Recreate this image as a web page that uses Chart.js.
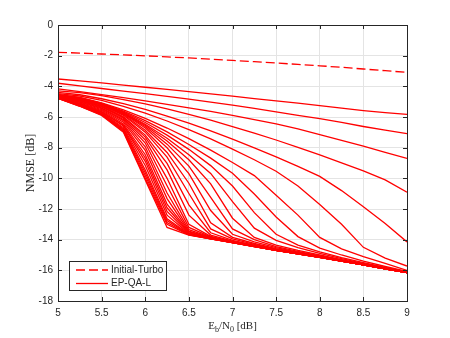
<!DOCTYPE html>
<html>
<head>
<meta charset="utf-8">
<script src="https://cdn.jsdelivr.net/npm/chart.js@4.4.0/dist/chart.umd.min.js"></script>
<style>
  html, body { margin: 0; background: #fff; }
</style>
</head>
<body>
<canvas id="nmseChart" width="450" height="338"></canvas>
<script>
// Eb/N0 grid (dB)
const ebn0 = [5, 5.25, 5.5, 5.75, 6, 6.25, 6.5, 6.75, 7, 7.25, 7.5, 7.75, 8, 8.25, 8.5, 8.75, 9];
const xTicks = [5, 5.5, 6, 6.5, 7, 7.5, 8, 8.5, 9];
const yTicks = [0, -2, -4, -6, -8, -10, -12, -14, -16, -18];

// Initial-Turbo NMSE (dB)
const initTurbo = [-1.78, -1.83, -1.89, -1.95, -2.01, -2.08, -2.15, -2.23, -2.31, -2.39, -2.48, -2.57, -2.66, -2.76, -2.87, -2.98, -3.09];

// EP-QA-L NMSE (dB), one curve per iteration
const it1 = [-3.52, -3.65, -3.78, -3.92, -4.06, -4.2, -4.34, -4.49, -4.64, -4.8, -4.95, -5.1, -5.26, -5.42, -5.58, -5.72, -5.83];
const it2 = [-3.8, -3.97, -4.14, -4.31, -4.48, -4.66, -4.84, -5.03, -5.23, -5.44, -5.66, -5.89, -6.1, -6.35, -6.62, -6.86, -7.08];
const it3 = [-4.17, -4.35, -4.54, -4.74, -4.95, -5.17, -5.4, -5.64, -5.9, -6.17, -6.45, -6.78, -7.15, -7.52, -7.9, -8.3, -8.7];
const it4 = [-4.3, -4.41, -4.61, -4.86, -5.15, -5.47, -5.83, -6.21, -6.62, -7.05, -7.5, -7.98, -8.47, -8.99, -9.52, -10.1, -10.9];
const it5 = [-4.4, -4.55, -4.81, -5.13, -5.51, -5.94, -6.4, -6.9, -7.44, -8.01, -8.6, -9.22, -9.87, -10.8, -11.85, -12.95, -14.15];
const it6 = [-4.47, -4.63, -4.92, -5.3, -5.75, -6.26, -6.83, -7.43, -8.1, -8.79, -9.54, -10.5, -11.7, -13.0, -14.5, -15.2, -15.72];
const it7 = [-4.52, -4.72, -5.08, -5.54, -6.09, -6.72, -7.41, -8.16, -8.97, -9.82, -11.1, -12.4, -13.85, -14.6, -15.1, -15.55, -16.0];
const it8 = [-4.56, -4.74, -5.11, -5.62, -6.24, -6.97, -7.79, -8.68, -9.67, -11.02, -12.52, -13.8, -14.55, -15.0, -15.4, -15.75, -16.07];
const it9 = [-4.59, -4.76, -5.13, -5.67, -6.36, -7.18, -8.11, -9.17, -10.5, -12.24, -13.65, -14.35, -14.8, -15.17, -15.5, -15.81, -16.1];
const it10 = [-4.62, -4.77, -5.15, -5.72, -6.47, -7.38, -8.46, -9.68, -11.52, -13.25, -14.05, -14.52, -14.9, -15.24, -15.55, -15.84, -16.11];
const it11 = [-4.64, -4.79, -5.16, -5.74, -6.54, -7.56, -8.79, -10.36, -12.6, -13.85, -14.35, -14.7, -15.0, -15.3, -15.58, -15.85, -16.12];
const it12 = [-4.66, -4.81, -5.17, -5.76, -6.62, -7.77, -9.2, -11.24, -13.3, -14.0, -14.45, -14.77, -15.05, -15.33, -15.6, -15.86, -16.13];
const it13 = [-4.68, -4.83, -5.18, -5.79, -6.72, -8.01, -9.69, -12.1, -13.65, -14.15, -14.52, -14.82, -15.08, -15.35, -15.61, -15.87, -16.13];
const it14 = [-4.69, -4.85, -5.2, -5.84, -6.86, -8.31, -10.32, -12.9, -13.85, -14.25, -14.58, -14.85, -15.1, -15.36, -15.62, -15.88, -16.14];
const it15 = [-4.7, -4.88, -5.23, -5.89, -6.99, -8.62, -10.99, -13.3, -13.95, -14.3, -14.62, -14.87, -15.11, -15.37, -15.63, -15.88, -16.14];
const it16 = [-4.71, -4.91, -5.28, -5.98, -7.18, -9.03, -11.73, -13.55, -14.05, -14.35, -14.65, -14.89, -15.12, -15.38, -15.64, -15.89, -16.15];
const it17 = [-4.72, -4.94, -5.31, -6.02, -7.31, -9.45, -12.4, -13.7, -14.1, -14.38, -14.67, -14.9, -15.13, -15.39, -15.64, -15.9, -16.15];
const it18 = [-4.73, -4.97, -5.35, -6.08, -7.5, -10.0, -13.0, -13.78, -14.13, -14.4, -14.68, -14.9, -15.14, -15.39, -15.65, -15.9, -16.15];
const it19 = [-4.74, -5.02, -5.41, -6.17, -7.7, -10.48, -13.2, -13.82, -14.15, -14.41, -14.69, -14.91, -15.14, -15.4, -15.65, -15.9, -16.15];
const it20 = [-4.74, -5.05, -5.46, -6.24, -7.94, -10.96, -13.35, -13.85, -14.16, -14.42, -14.69, -14.91, -15.14, -15.4, -15.65, -15.9, -16.15];
const it21 = [-4.75, -5.09, -5.52, -6.34, -8.18, -11.32, -13.45, -13.87, -14.17, -14.42, -14.7, -14.91, -15.14, -15.4, -15.65, -15.9, -16.15];
const it22 = [-4.75, -5.12, -5.58, -6.45, -8.46, -11.68, -13.5, -13.89, -14.18, -14.43, -14.7, -14.92, -15.15, -15.4, -15.65, -15.9, -16.15];
const it23 = [-4.76, -5.16, -5.64, -6.53, -8.67, -11.92, -13.55, -13.9, -14.18, -14.43, -14.7, -14.92, -15.15, -15.4, -15.65, -15.9, -16.15];
const it24 = [-4.76, -5.18, -5.67, -6.59, -8.89, -12.16, -13.58, -13.91, -14.19, -14.44, -14.7, -14.92, -15.15, -15.4, -15.65, -15.9, -16.15];
const it25 = [-4.77, -5.21, -5.72, -6.69, -9.16, -12.4, -13.6, -13.92, -14.19, -14.44, -14.7, -14.92, -15.15, -15.4, -15.65, -15.9, -16.15];
const it26 = [-4.77, -5.23, -5.76, -6.76, -9.46, -12.64, -13.63, -13.93, -14.19, -14.44, -14.7, -14.92, -15.15, -15.4, -15.65, -15.9, -16.15];
const it27 = [-4.77, -5.25, -5.79, -6.82, -9.63, -12.76, -13.65, -13.94, -14.2, -14.45, -14.7, -14.92, -15.15, -15.4, -15.65, -15.9, -16.15];
const it28 = [-4.78, -5.27, -5.83, -6.88, -9.81, -12.88, -13.67, -13.94, -14.2, -14.45, -14.7, -14.92, -15.15, -15.4, -15.65, -15.9, -16.15];
const it29 = [-4.78, -5.29, -5.86, -6.94, -10.0, -13.0, -13.69, -13.95, -14.2, -14.45, -14.7, -14.92, -15.15, -15.4, -15.65, -15.9, -16.15];
const it30 = [-4.78, -5.3, -5.9, -7.0, -10.1, -13.2, -13.7, -13.95, -14.2, -14.45, -14.7, -14.92, -15.15, -15.4, -15.65, -15.9, -16.15];

const epqaL = [it1, it2, it3, it4, it5, it6, it7, it8, it9, it10,
               it11, it12, it13, it14, it15, it16, it17, it18, it19, it20,
               it21, it22, it23, it24, it25, it26, it27, it28, it29, it30];

const RED = '#ff0000';
const AXIS = '#262626';
const toXY = ys => ys.map((y, i) => ({ x: ebn0[i], y: y }));

const datasets = [{
    label: 'Initial-Turbo',
    data: toXY(initTurbo),
    borderColor: RED,
    borderWidth: 1.3,
    borderDash: [9, 4],
    pointRadius: 0,
    fill: false
}].concat(epqaL.map((s, i) => ({
    label: i === 0 ? 'EP-QA-L' : '',
    data: toXY(s),
    borderColor: RED,
    borderWidth: 1.3,
    pointRadius: 0,
    fill: false
})));

// MATLAB-like box, inward ticks, axis titles and legend
const matlabAxes = {
    id: 'matlabAxes',
    afterDraw(chart) {
        const { ctx, chartArea: a, scales: { x, y } } = chart;
        ctx.save();

        ctx.strokeStyle = AXIS;
        ctx.lineWidth = 1;
        ctx.beginPath();
        xTicks.forEach(v => {
            const px = Math.round(x.getPixelForValue(v)) + 0.5;
            ctx.moveTo(px, a.bottom); ctx.lineTo(px, a.bottom - 4);
            ctx.moveTo(px, a.top); ctx.lineTo(px, a.top + 4);
        });
        yTicks.forEach(v => {
            const py = Math.round(y.getPixelForValue(v)) + 0.5;
            ctx.moveTo(a.left, py); ctx.lineTo(a.left + 4, py);
            ctx.moveTo(a.right, py); ctx.lineTo(a.right - 4, py);
        });
        ctx.stroke();
        ctx.strokeRect(Math.round(a.left) + 0.5, Math.round(a.top) + 0.5,
                       Math.round(a.right - a.left), Math.round(a.bottom - a.top));

        // y title
        ctx.fillStyle = AXIS;
        ctx.font = '12px "Liberation Serif"';
        ctx.save();
        ctx.translate(31, (a.top + a.bottom) / 2);
        ctx.rotate(-Math.PI / 2);
        ctx.textAlign = 'center';
        ctx.textBaseline = 'middle';
        ctx.fillText('NMSE [dB]', 0, 0);
        ctx.restore();

        // x title with subscripts
        const parts = [['E', false], ['b', true], ['/N', false], ['0', true], [' [dB]', false]];
        const fontFor = sub => sub ? '8px "Liberation Serif"' : '11px "Liberation Serif"';
        let w = 0;
        parts.forEach(([t, sub]) => { ctx.font = fontFor(sub); w += ctx.measureText(t).width; });
        let cx = (a.left + a.right) / 2 - w / 2;
        const base = 329;
        ctx.textAlign = 'left';
        ctx.textBaseline = 'alphabetic';
        parts.forEach(([t, sub]) => {
            ctx.font = fontFor(sub);
            ctx.fillText(t, cx, sub ? base + 3 : base);
            cx += ctx.measureText(t).width;
        });

        // legend
        const lx = 69.5, ly = 261.5, lw = 97, lh = 29;
        ctx.fillStyle = '#fff';
        ctx.fillRect(lx, ly, lw, lh);
        ctx.strokeStyle = AXIS;
        ctx.lineWidth = 1;
        ctx.strokeRect(lx, ly, lw, lh);
        const rows = [[chart.data.datasets[0], 270], [chart.data.datasets[1], 283.5]];
        ctx.font = '10px "Liberation Sans"';
        ctx.textBaseline = 'middle';
        rows.forEach(([ds, ry]) => {
            ctx.strokeStyle = ds.borderColor;
            ctx.lineWidth = 1.3;
            ctx.setLineDash(ds.borderDash || []);
            ctx.beginPath();
            ctx.moveTo(76, ry); ctx.lineTo(108, ry);
            ctx.stroke();
            ctx.setLineDash([]);
            ctx.fillStyle = AXIS;
            ctx.fillText(ds.label, 111, ry);
        });

        ctx.restore();
    }
};

new Chart(document.getElementById('nmseChart').getContext('2d'), {
    type: 'line',
    data: { datasets },
    options: {
        responsive: false,
        animation: false,
        layout: { padding: { left: 8, right: 43, top: 25, bottom: 0 } },
        elements: { line: { tension: 0 } },
        plugins: { legend: { display: false }, tooltip: { enabled: false } },
        scales: {
            x: {
                type: 'linear',
                min: 5, max: 9,
                afterFit: s => { s.height = 37; },
                afterBuildTicks: s => { s.ticks = xTicks.map(v => ({ value: v })); },
                ticks: {
                    color: AXIS, padding: 6,
                    font: { family: 'Liberation Sans', size: 10 },
                    callback: v => String(v)
                },
                grid: { color: '#e4e4e4', drawTicks: false },
                border: { display: false }
            },
            y: {
                type: 'linear',
                min: -18, max: 0,
                afterFit: s => { s.width = 50; },
                afterBuildTicks: s => { s.ticks = yTicks.map(v => ({ value: v })); },
                ticks: {
                    color: AXIS, padding: 5,
                    font: { family: 'Liberation Sans', size: 10 },
                    callback: v => String(v)
                },
                grid: { color: '#e4e4e4', drawTicks: false },
                border: { display: false }
            }
        }
    },
    plugins: [matlabAxes]
});
</script>
</body>
</html>
